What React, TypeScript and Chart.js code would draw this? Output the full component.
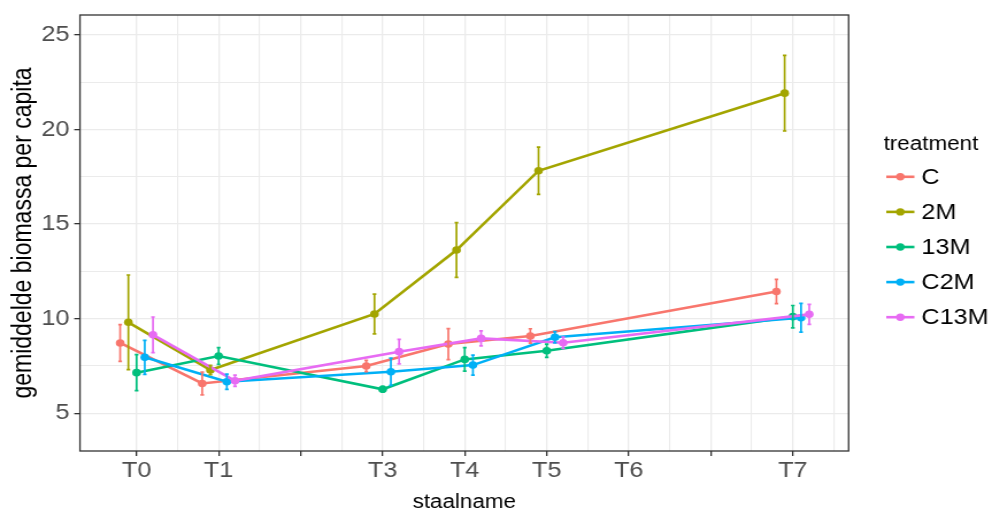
import React, { useEffect, useRef } from 'react';
import { Chart, registerables } from 'chart.js';

Chart.register(...registerables);

// The drawing is rendered on a narrower canvas and widened by CSS.
const STRETCH = 1.15;
const CANVAS_W = Math.round(992 / STRETCH);
const CANVAS_H = 513;

const FONT = '"Liberation Sans", Arial, Helvetica, sans-serif';

// Sampling moments and their position on the time axis
const stages = ['T0', 'T1', 'T3', 'T4', 'T5', 'T7'];
const stagePos = [0, 1, 3, 4, 5, 8];
const axisLabels = ['T0', 'T1', '', 'T3', 'T4', 'T5', 'T6', '', 'T7'];

const treatments = ['C', '2M', '13M', 'C2M', 'C13M'];
const colors = ['#F8766D', '#A3A500', '#00BF7D', '#00B0F6', '#E76BF3'];
const dodge = [-0.2, -0.1, 0, 0.1, 0.2];

// Mean biomass per capita
const meanC = [8.72, 6.58, 7.5, 8.66, 9.09, 11.44];
const mean2M = [9.81, 7.29, 10.25, 13.63, 17.82, 21.92];
const mean13M = [7.15, 8.03, 6.27, 7.85, 8.31, 10.11];
const meanC2M = [7.96, 6.67, 7.2, 7.55, 9.02, 10.05];
const meanC13M = [9.15, 6.72, 8.26, 8.96, 8.73, 10.23];

// Half-width of the error bars
const errC = [0.97, 0.6, 0.3, 0.82, 0.38, 0.64];
const err2M = [2.5, 0.25, 1.05, 1.45, 1.25, 2.0];
const err13M = [0.95, 0.44, 0.15, 0.62, 0.35, 0.59];
const errC2M = [0.9, 0.4, 0.72, 0.53, 0.3, 0.76];
const errC13M = [0.94, 0.3, 0.65, 0.4, 0.3, 0.53];

const means = [meanC, mean2M, mean13M, meanC2M, meanC13M];
const errs = [errC, err2M, err13M, errC2M, errC13M];

const yMajor = [5, 10, 15, 20, 25];
const yTickValues = [5, 7.5, 10, 12.5, 15, 17.5, 20, 22.5, 25];
const xTickValues = [0, 0.5, 1, 1.5, 2, 2.5, 3, 3.5, 4, 4.5, 5, 5.5, 6, 6.5, 7, 7.5, 8, 8.5];

const X_MIN = -0.69;
const X_MAX = 8.68;
const Y_MIN = 3.01;
const Y_MAX = 26.05;

const AREA = { left: 80 / STRETCH, right: 849 / STRETCH, top: 15, bottom: 451 };

const isInt = (v: number) => Math.abs(v - Math.round(v)) < 1e-6;

const errorBarPlugin = {
  id: 'errorBars',
  afterDatasetsDraw(chart: any) {
    const { ctx } = chart;
    const yScale = chart.scales.y;
    chart.data.datasets.forEach((ds: any, k: number) => {
      const meta = chart.getDatasetMeta(k);
      ctx.save();
      ctx.strokeStyle = ds.borderColor;
      ctx.lineWidth = 1.7;
      meta.data.forEach((pt: any, i: number) => {
        const m = ds.data[i].y;
        const e = ds.errors[i];
        const yTop = yScale.getPixelForValue(m + e);
        const yBot = yScale.getPixelForValue(m - e);
        const x = pt.x;
        ctx.beginPath();
        ctx.moveTo(x, yTop);
        ctx.lineTo(x, yBot);
        ctx.moveTo(x - 1.6, yTop);
        ctx.lineTo(x + 1.6, yTop);
        ctx.moveTo(x - 1.6, yBot);
        ctx.lineTo(x + 1.6, yBot);
        ctx.stroke();
      });
      ctx.restore();
    });
  },
};

const panelPlugin = {
  id: 'panelAndLegend',
  afterDraw(chart: any) {
    const { ctx, chartArea } = chart;
    ctx.save();
    // panel border
    ctx.strokeStyle = '#333333';
    ctx.lineWidth = 1.3;
    ctx.strokeRect(chartArea.left, chartArea.top, chartArea.right - chartArea.left, chartArea.bottom - chartArea.top);

    // legend
    const lx = 884 / STRETCH;
    ctx.fillStyle = '#000000';
    ctx.textAlign = 'left';
    ctx.textBaseline = 'middle';
    ctx.font = `19.5px ${FONT}`;
    ctx.fillText('treatment', lx, 145);
    const keyL = 771;
    const keyR = 795.5;
    ctx.font = `22px ${FONT}`;
    treatments.forEach((name, k) => {
      const y = 176.8 + k * 35.1;
      ctx.strokeStyle = colors[k];
      ctx.lineWidth = 2.6;
      ctx.beginPath();
      ctx.moveTo(keyL, y);
      ctx.lineTo(keyR, y);
      ctx.stroke();
      ctx.fillStyle = colors[k];
      ctx.beginPath();
      ctx.arc((keyL + keyR) / 2, y, 3.7, 0, Math.PI * 2);
      ctx.fill();
      ctx.fillStyle = '#000000';
      ctx.fillText(name, 801.5, y + 1);
    });
    ctx.restore();
  },
};

export default function App() {
  const canvasRef = useRef<HTMLCanvasElement | null>(null);

  useEffect(() => {
    document.body.style.margin = '0';
    const canvas = canvasRef.current;
    if (!canvas) return;

    const datasets = treatments.map((name, k) => ({
      label: name,
      data: stagePos.map((p, i) => ({ x: p + dodge[k], y: means[k][i] })),
      errors: errs[k],
      borderColor: colors[k],
      backgroundColor: colors[k],
      pointBackgroundColor: colors[k],
      pointBorderColor: colors[k],
      pointRadius: 3.8,
      pointBorderWidth: 0,
      borderWidth: 2.6,
      tension: 0,
      fill: false,
      showLine: true,
      order: treatments.length - k,
    }));

    const chart = new Chart(canvas, {
      type: 'line',
      data: { datasets: datasets as any },
      options: {
        responsive: false,
        animation: false,
        events: [],
        layout: {
          padding: { left: 0, top: AREA.top, right: CANVAS_W - AREA.right, bottom: 0 },
        },
        plugins: {
          legend: { display: false },
          tooltip: { enabled: false },
        },
        scales: {
          x: {
            type: 'linear',
            min: X_MIN,
            max: X_MAX,
            afterBuildTicks: (s: any) => {
              s.ticks = xTickValues.map((v) => ({ value: v }));
            },
            afterFit: (s: any) => {
              s.height = CANVAS_H - AREA.bottom;
            },
            border: { display: false },
            grid: {
              color: '#EBEBEB',
              lineWidth: (c: any) => (c.tick && isInt(c.tick.value) ? 1.3 : 1.1),
              tickColor: (c: any) => (c.tick && isInt(c.tick.value) ? '#333333' : 'rgba(0,0,0,0)'),
              tickLength: 5,
              tickWidth: 1.3,
            },
            ticks: {
              autoSkip: false,
              maxRotation: 0,
              minRotation: 0,
              padding: 2,
              color: '#4D4D4D',
              font: { family: FONT, size: 22 },
              callback: (v: any) => (isInt(v) ? axisLabels[Math.round(v)] : ''),
            },
            title: {
              display: true,
              text: 'staalname',
              color: '#000000',
              font: { family: FONT, size: 19.5, lineHeight: 1 },
              padding: { top: 0, bottom: 513 - 503 - 9.75 },
            },
          },
          y: {
            type: 'linear',
            min: Y_MIN,
            max: Y_MAX,
            afterBuildTicks: (s: any) => {
              s.ticks = yTickValues.map((v) => ({ value: v }));
            },
            afterFit: (s: any) => {
              s.width = AREA.left;
            },
            border: { display: false },
            grid: {
              color: '#EBEBEB',
              lineWidth: (c: any) => (c.tick && yMajor.includes(c.tick.value) ? 1.3 : 1.1),
              tickColor: (c: any) => (c.tick && yMajor.includes(c.tick.value) ? '#333333' : 'rgba(0,0,0,0)'),
              tickLength: 5,
              tickWidth: 1.3,
            },
            ticks: {
              autoSkip: false,
              padding: 4,
              color: '#4D4D4D',
              font: { family: FONT, size: 22, lineHeight: 0.5 },
              callback: (v: any) => (yMajor.includes(v) ? String(v) : ''),
            },
            title: {
              display: true,
              text: 'gemiddelde biomassa per capita',
              color: '#000000',
              font: { family: FONT, size: 23, lineHeight: 1 },
              padding: { top: 20.9 - 11.5, bottom: 0 },
            },
          },
        },
      },
      plugins: [errorBarPlugin, panelPlugin],
    });

    return () => chart.destroy();
  }, []);

  return (
    <canvas
      ref={canvasRef}
      width={CANVAS_W}
      height={CANVAS_H}
      style={{ width: '992px', height: '513px', display: 'block' }}
    />
  );
}
